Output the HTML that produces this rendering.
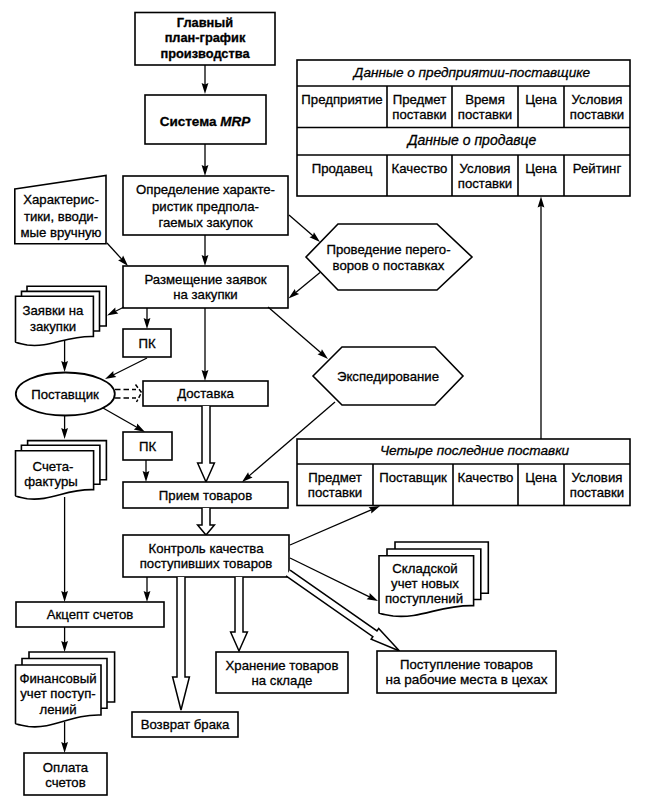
<!DOCTYPE html>
<html><head><meta charset="utf-8"><style>
html,body{margin:0;padding:0;background:#fff;}
svg{display:block;font-family:"Liberation Sans",sans-serif;}
text{fill:#000;stroke:#000;stroke-width:0.3px;}
</style></head><body>
<svg width="645" height="811" viewBox="0 0 645 811">
<rect x="135" y="12.5" width="140" height="52.5" fill="#fff" stroke="#000" stroke-width="1.6"/>
<text x="205" y="26.5" font-size="12.8" font-weight="bold" font-style="normal" text-anchor="middle" >Главный</text>
<text x="205" y="42.2" font-size="12.8" font-weight="bold" font-style="normal" text-anchor="middle" >план-график</text>
<text x="205" y="57.5" font-size="12.8" font-weight="bold" font-style="normal" text-anchor="middle" >производства</text>
<line x1="205" y1="65" x2="205.0" y2="85.0" stroke="#000" stroke-width="1.3"/>
<polygon points="205,94 201.60,83.00 205.00,84.50 208.40,83.00" fill="#000"/>
<rect x="145" y="95" width="121" height="49" fill="#fff" stroke="#000" stroke-width="1.6"/>
<text x="205" y="125.5" font-size="13.5" font-weight="bold" font-style="normal" text-anchor="middle" >Система <tspan font-style="italic">MRP</tspan></text>
<line x1="205" y1="144" x2="205.0" y2="167.0" stroke="#000" stroke-width="1.3"/>
<polygon points="205,176 201.60,165.00 205.00,166.50 208.40,165.00" fill="#000"/>
<rect x="123" y="176" width="165" height="59" fill="#fff" stroke="#000" stroke-width="1.6"/>
<text x="205.5" y="193.5" font-size="13.2" font-weight="normal" font-style="normal" text-anchor="middle" >Определение характе-</text>
<text x="205.5" y="210.5" font-size="13.2" font-weight="normal" font-style="normal" text-anchor="middle" >ристик предпола-</text>
<text x="205.5" y="226.5" font-size="13.2" font-weight="normal" font-style="normal" text-anchor="middle" >гаемых закупок</text>
<line x1="205" y1="235" x2="205.0" y2="257.0" stroke="#000" stroke-width="1.3"/>
<polygon points="205,266 201.60,255.00 205.00,256.50 208.40,255.00" fill="#000"/>
<rect x="123" y="266" width="165" height="42" fill="#fff" stroke="#000" stroke-width="1.6"/>
<text x="205.5" y="283.5" font-size="13.2" font-weight="normal" font-style="normal" text-anchor="middle" >Размещение заявок</text>
<text x="205.5" y="298.5" font-size="13.2" font-weight="normal" font-style="normal" text-anchor="middle" >на закупки</text>
<polygon points="14.8,189 106,175.5 106,243.8 14.8,243.8" fill="#fff" stroke="#000" stroke-width="1.6" stroke-linejoin="miter"/>
<text x="61" y="203.5" font-size="13.2" font-weight="normal" font-style="normal" text-anchor="middle" >Характерис-</text>
<text x="61" y="220.5" font-size="13.2" font-weight="normal" font-style="normal" text-anchor="middle" >тики, вводи-</text>
<text x="61" y="236.5" font-size="13.2" font-weight="normal" font-style="normal" text-anchor="middle" >мые вручную</text>
<line x1="107" y1="243" x2="121.93157572380801" y2="259.3536305546469" stroke="#000" stroke-width="1.3"/>
<polygon points="128,266 118.07,260.17 121.59,258.98 123.09,255.58" fill="#000"/>
<polygon points="306,257 338,224 437,224 472,257 437,290 338,290" fill="#fff" stroke="#000" stroke-width="1.6" stroke-linejoin="miter"/>
<text x="388.5" y="253.5" font-size="13.2" font-weight="normal" font-style="normal" text-anchor="middle" >Проведение перего-</text>
<text x="388.5" y="269.5" font-size="13.2" font-weight="normal" font-style="normal" text-anchor="middle" >воров о поставках</text>
<line x1="289" y1="215" x2="313.21326563702326" y2="236.0889732967622" stroke="#000" stroke-width="1.3"/>
<polygon points="320,242 309.47,237.34 312.84,235.76 313.94,232.21" fill="#000"/>
<line x1="320" y1="272.5" x2="295.4410072250191" y2="292.7709146714128" stroke="#000" stroke-width="1.3"/>
<polygon points="288.5,298.5 294.82,288.88 295.83,292.45 299.15,294.12" fill="#000"/>
<rect x="297" y="60" width="333" height="136" fill="#fff" stroke="#000" stroke-width="1.6"/>
<line x1="297" y1="86" x2="630" y2="86" stroke="#000" stroke-width="1.6"/>
<line x1="297" y1="127.5" x2="630" y2="127.5" stroke="#000" stroke-width="1.6"/>
<line x1="297" y1="155" x2="630" y2="155" stroke="#000" stroke-width="1.6"/>
<line x1="387" y1="86" x2="387" y2="127.5" stroke="#000" stroke-width="1.6"/>
<line x1="387" y1="155" x2="387" y2="196" stroke="#000" stroke-width="1.6"/>
<line x1="452" y1="86" x2="452" y2="127.5" stroke="#000" stroke-width="1.6"/>
<line x1="452" y1="155" x2="452" y2="196" stroke="#000" stroke-width="1.6"/>
<line x1="518" y1="86" x2="518" y2="127.5" stroke="#000" stroke-width="1.6"/>
<line x1="518" y1="155" x2="518" y2="196" stroke="#000" stroke-width="1.6"/>
<line x1="564" y1="86" x2="564" y2="127.5" stroke="#000" stroke-width="1.6"/>
<line x1="564" y1="155" x2="564" y2="196" stroke="#000" stroke-width="1.6"/>
<text x="472" y="77.3" font-size="13.6" font-weight="normal" font-style="italic" text-anchor="middle" >Данные о предприятии-поставщике</text>
<text x="472" y="144.5" font-size="14" font-weight="normal" font-style="italic" text-anchor="middle" >Данные о продавце</text>
<text x="342.0" y="103.7" font-size="13.2" font-weight="normal" font-style="normal" text-anchor="middle" >Предприятие</text>
<text x="419.5" y="103.7" font-size="13.2" font-weight="normal" font-style="normal" text-anchor="middle" >Предмет</text>
<text x="419.5" y="118.7" font-size="13.2" font-weight="normal" font-style="normal" text-anchor="middle" >поставки</text>
<text x="485.0" y="103.7" font-size="13.2" font-weight="normal" font-style="normal" text-anchor="middle" >Время</text>
<text x="485.0" y="118.7" font-size="13.2" font-weight="normal" font-style="normal" text-anchor="middle" >поставки</text>
<text x="541.0" y="103.7" font-size="13.2" font-weight="normal" font-style="normal" text-anchor="middle" >Цена</text>
<text x="597.0" y="103.7" font-size="13.2" font-weight="normal" font-style="normal" text-anchor="middle" >Условия</text>
<text x="597.0" y="118.7" font-size="13.2" font-weight="normal" font-style="normal" text-anchor="middle" >поставки</text>
<text x="342.0" y="172.8" font-size="13.2" font-weight="normal" font-style="normal" text-anchor="middle" >Продавец</text>
<text x="419.5" y="172.8" font-size="13.2" font-weight="normal" font-style="normal" text-anchor="middle" >Качество</text>
<text x="485.0" y="172.8" font-size="13.2" font-weight="normal" font-style="normal" text-anchor="middle" >Условия</text>
<text x="485.0" y="187.8" font-size="13.2" font-weight="normal" font-style="normal" text-anchor="middle" >поставки</text>
<text x="541.0" y="172.8" font-size="13.2" font-weight="normal" font-style="normal" text-anchor="middle" >Цена</text>
<text x="597.0" y="172.8" font-size="13.2" font-weight="normal" font-style="normal" text-anchor="middle" >Рейтинг</text>
<line x1="541" y1="439" x2="541.0" y2="205.5" stroke="#000" stroke-width="1.3"/>
<polygon points="541,196.5 544.40,207.50 541.00,206.00 537.60,207.50" fill="#000"/>
<polygon points="27,286.3 106.2,286.3 106.2,326 27,326" fill="#fff" stroke="#000" stroke-width="1.6" stroke-linejoin="miter"/>
<polygon points="21.5,291.4 99.5,291.4 99.5,331 21.5,331" fill="#fff" stroke="#000" stroke-width="1.6" stroke-linejoin="miter"/>
<path d="M15.5,296.2 L93.4,296.2 L93.4,336.5 C66.135,335.5 50.55500000000001,348 27.185000000000002,345 C20.953000000000003,343.5 15.5,343 15.5,342 Z" fill="#fff" stroke="#000" stroke-width="1.6"/>
<text x="53" y="315" font-size="13.2" font-weight="normal" font-style="normal" text-anchor="middle" >Заявки на</text>
<text x="53" y="330.8" font-size="13.2" font-weight="normal" font-style="normal" text-anchor="middle" >закупки</text>
<line x1="124" y1="307" x2="115.04984471899925" y2="311.4750776405004" stroke="#000" stroke-width="1.3"/>
<polygon points="107,315.5 115.32,307.54 115.50,311.25 118.36,313.62" fill="#000"/>
<line x1="147" y1="308" x2="147.0" y2="320.0" stroke="#000" stroke-width="1.3"/>
<polygon points="147,329 143.60,318.00 147.00,319.50 150.40,318.00" fill="#000"/>
<rect x="123" y="329" width="48" height="28" fill="#fff" stroke="#000" stroke-width="1.6"/>
<text x="147" y="347.5" font-size="13.2" font-weight="normal" font-style="normal" text-anchor="middle" >ПК</text>
<line x1="147" y1="358" x2="113.04984471899925" y2="374.9750776405004" stroke="#000" stroke-width="1.3"/>
<polygon points="105,379 113.32,371.04 113.50,374.75 116.36,377.12" fill="#000"/>
<line x1="205" y1="308" x2="205.0" y2="372.0" stroke="#000" stroke-width="1.3"/>
<polygon points="205,381 201.60,370.00 205.00,371.50 208.40,370.00" fill="#000"/>
<line x1="268" y1="307" x2="321.19879825489164" y2="353.1056251542394" stroke="#000" stroke-width="1.3"/>
<polygon points="328,359 317.46,354.37 320.82,352.78 321.91,349.23" fill="#000"/>
<polygon points="313,376 342,347 435,347 463,376 435,405 342,405" fill="#fff" stroke="#000" stroke-width="1.6" stroke-linejoin="miter"/>
<text x="388" y="380.5" font-size="13.2" font-weight="normal" font-style="normal" text-anchor="middle" >Экспедирование</text>
<line x1="335" y1="402" x2="248.82294133106853" y2="476.1308031560701" stroke="#000" stroke-width="1.3"/>
<polygon points="242,482 248.12,472.25 249.20,475.80 252.56,477.40" fill="#000"/>
<line x1="64.6" y1="340" x2="64.6" y2="363.0" stroke="#000" stroke-width="1.3"/>
<polygon points="64.6,372 61.20,361.00 64.60,362.50 68.00,361.00" fill="#000"/>
<ellipse cx="65.3" cy="394" rx="49.5" ry="21.5" fill="#fff" stroke="#000" stroke-width="1.8"/>
<text x="65" y="398.5" font-size="13.2" font-weight="normal" font-style="normal" text-anchor="middle" >Поставщик</text>
<path d="M115,389.5 L136,389.5 M115,398 L136,398" stroke="#000" stroke-width="1.5" stroke-dasharray="5.5,3" fill="none"/>
<path d="M135.5,384.5 L141.5,392.5 L136.5,402" stroke="#000" stroke-width="1.5" fill="none" stroke-dasharray="4,2"/>
<rect x="143" y="381" width="125" height="25" fill="#fff" stroke="#000" stroke-width="1.6"/>
<text x="205.5" y="397.5" font-size="13.2" font-weight="normal" font-style="normal" text-anchor="middle" >Доставка</text>
<line x1="103" y1="408" x2="137.18581172087985" y2="427.5347495547885" stroke="#000" stroke-width="1.3"/>
<polygon points="145,432 133.76,429.49 136.75,427.29 137.14,423.59" fill="#000"/>
<line x1="64.6" y1="415" x2="64.6" y2="430.0" stroke="#000" stroke-width="1.3"/>
<polygon points="64.6,439 61.20,428.00 64.60,429.50 68.00,428.00" fill="#000"/>
<rect x="123" y="432" width="49" height="28" fill="#fff" stroke="#000" stroke-width="1.6"/>
<text x="147.5" y="450.5" font-size="13.2" font-weight="normal" font-style="normal" text-anchor="middle" >ПК</text>
<line x1="146" y1="460" x2="146.0" y2="473.0" stroke="#000" stroke-width="1.3"/>
<polygon points="146,482 142.60,471.00 146.00,472.50 149.40,471.00" fill="#000"/>
<polyline points="202.00,406.00 202.00,463.00 197.60,463.00 206.00,482.00 214.40,463.00 210.00,463.00 210.00,406.00" fill="#fff" stroke="#000" stroke-width="1.5" stroke-linejoin="miter"/>
<polygon points="27.6,440.6 106.4,440.6 106.4,479.8 27.6,479.8" fill="#fff" stroke="#000" stroke-width="1.6" stroke-linejoin="miter"/>
<polygon points="21.4,445.3 99.9,445.3 99.9,484.2 21.4,484.2" fill="#fff" stroke="#000" stroke-width="1.6" stroke-linejoin="miter"/>
<path d="M15.5,450.8 L93.6,450.8 L93.6,489.7 C66.265,488.7 50.644999999999996,501.7 27.214999999999996,498.7 C20.967,497.2 15.5,496.7 15.5,495.7 Z" fill="#fff" stroke="#000" stroke-width="1.6"/>
<text x="53" y="471" font-size="13.2" font-weight="normal" font-style="normal" text-anchor="middle" >Счета-</text>
<text x="51" y="486.3" font-size="13.2" font-weight="normal" font-style="normal" text-anchor="middle" >фактуры</text>
<rect x="123" y="482" width="165" height="26" fill="#fff" stroke="#000" stroke-width="1.6"/>
<text x="205.5" y="499.5" font-size="13.2" font-weight="normal" font-style="normal" text-anchor="middle" >Прием товаров</text>
<polyline points="202.00,508.00 202.00,525.00 197.60,525.00 206.00,535.00 214.40,525.00 210.00,525.00 210.00,508.00" fill="#fff" stroke="#000" stroke-width="1.5" stroke-linejoin="miter"/>
<rect x="123" y="535" width="166" height="42" fill="#fff" stroke="#000" stroke-width="1.6"/>
<text x="206" y="552.5" font-size="13.2" font-weight="normal" font-style="normal" text-anchor="middle" >Контроль качества</text>
<text x="206" y="567.5" font-size="13.2" font-weight="normal" font-style="normal" text-anchor="middle" >поступивших товаров</text>
<rect x="297" y="439" width="333" height="66.5" fill="#fff" stroke="#000" stroke-width="1.6"/>
<line x1="297" y1="464" x2="630" y2="464" stroke="#000" stroke-width="1.6"/>
<line x1="373" y1="464" x2="373" y2="505.5" stroke="#000" stroke-width="1.6"/>
<line x1="453" y1="464" x2="453" y2="505.5" stroke="#000" stroke-width="1.6"/>
<line x1="518" y1="464" x2="518" y2="505.5" stroke="#000" stroke-width="1.6"/>
<line x1="564" y1="464" x2="564" y2="505.5" stroke="#000" stroke-width="1.6"/>
<text x="474.5" y="455.3" font-size="13.6" font-weight="normal" font-style="italic" text-anchor="middle" >Четыре последние поставки</text>
<text x="335.0" y="482" font-size="13.2" font-weight="normal" font-style="normal" text-anchor="middle" >Предмет</text>
<text x="335.0" y="497" font-size="13.2" font-weight="normal" font-style="normal" text-anchor="middle" >поставки</text>
<text x="413.0" y="482" font-size="13.2" font-weight="normal" font-style="normal" text-anchor="middle" >Поставщик</text>
<text x="485.5" y="482" font-size="13.2" font-weight="normal" font-style="normal" text-anchor="middle" >Качество</text>
<text x="541.0" y="482" font-size="13.2" font-weight="normal" font-style="normal" text-anchor="middle" >Цена</text>
<text x="597.0" y="482" font-size="13.2" font-weight="normal" font-style="normal" text-anchor="middle" >Условия</text>
<text x="597.0" y="497" font-size="13.2" font-weight="normal" font-style="normal" text-anchor="middle" >поставки</text>
<line x1="290" y1="545" x2="371.74199937221067" y2="509.57846693870874" stroke="#000" stroke-width="1.3"/>
<polygon points="380,506 371.26,513.49 371.28,509.78 368.56,507.25" fill="#000"/>
<line x1="290" y1="558" x2="369.913735193825" y2="597.0487569697099" stroke="#000" stroke-width="1.3"/>
<polygon points="378,601 366.62,599.23 369.46,596.83 369.61,593.12" fill="#000"/>
<polygon points="395,542 488.3,542 488.3,593.3 395,593.3" fill="#fff" stroke="#000" stroke-width="1.6" stroke-linejoin="miter"/>
<polygon points="387,549 480.8,549 480.8,599.5 387,599.5" fill="#fff" stroke="#000" stroke-width="1.6" stroke-linejoin="miter"/>
<path d="M379,555.8 L473.6,555.8 L473.6,605.7 C440.49,604.7 421.57,619 393.19,616 C385.622,614.5 379,614 379,613 Z" fill="#fff" stroke="#000" stroke-width="1.6"/>
<text x="425" y="572.5" font-size="13.2" font-weight="normal" font-style="normal" text-anchor="middle" >Складской</text>
<text x="425" y="587.5" font-size="13.2" font-weight="normal" font-style="normal" text-anchor="middle" >учет новых</text>
<text x="424" y="603" font-size="13.2" font-weight="normal" font-style="normal" text-anchor="middle" >поступлений</text>
<polyline points="285.94,575.95 372.85,636.75 371.13,639.21 399.50,651.00 378.70,628.40 376.98,630.85 290.06,570.05" fill="#fff" stroke="#000" stroke-width="1.5" stroke-linejoin="miter"/>
<rect x="377" y="651" width="179" height="42" fill="#fff" stroke="#000" stroke-width="1.6"/>
<text x="466.5" y="668.5" font-size="13.2" font-weight="normal" font-style="normal" text-anchor="middle" >Поступление товаров</text>
<text x="466.5" y="683.5" font-size="13.5" font-weight="normal" font-style="normal" text-anchor="middle" >на рабочие места в цехах</text>
<line x1="64.6" y1="497" x2="64.6" y2="593.0" stroke="#000" stroke-width="1.3"/>
<polygon points="64.6,602 61.20,591.00 64.60,592.50 68.00,591.00" fill="#000"/>
<line x1="147" y1="577" x2="147.0" y2="593.0" stroke="#000" stroke-width="1.3"/>
<polygon points="147,602 143.60,591.00 147.00,592.50 150.40,591.00" fill="#000"/>
<rect x="16" y="602" width="148" height="25" fill="#fff" stroke="#000" stroke-width="1.6"/>
<text x="90" y="618.5" font-size="13.2" font-weight="normal" font-style="normal" text-anchor="middle" >Акцепт счетов</text>
<polyline points="177.00,577.00 177.00,677.00 172.60,677.00 181.00,710.00 189.40,677.00 185.00,677.00 185.00,577.00" fill="#fff" stroke="#000" stroke-width="1.5" stroke-linejoin="miter"/>
<polyline points="235.00,577.00 235.00,632.00 230.60,632.00 239.00,651.00 247.40,632.00 243.00,632.00 243.00,577.00" fill="#fff" stroke="#000" stroke-width="1.5" stroke-linejoin="miter"/>
<rect x="216" y="652" width="132" height="41" fill="#fff" stroke="#000" stroke-width="1.6"/>
<text x="282" y="670" font-size="13.2" font-weight="normal" font-style="normal" text-anchor="middle" >Хранение товаров</text>
<text x="282" y="685" font-size="13.2" font-weight="normal" font-style="normal" text-anchor="middle" >на складе</text>
<rect x="132" y="712" width="106" height="25" fill="#fff" stroke="#000" stroke-width="1.6"/>
<text x="185" y="728.5" font-size="13.2" font-weight="normal" font-style="normal" text-anchor="middle" >Возврат брака</text>
<line x1="64.6" y1="627" x2="64.6" y2="643.0" stroke="#000" stroke-width="1.3"/>
<polygon points="64.6,652 61.20,641.00 64.60,642.50 68.00,641.00" fill="#000"/>
<polygon points="29,652 114.6,652 114.6,702 29,702" fill="#fff" stroke="#000" stroke-width="1.6" stroke-linejoin="miter"/>
<polygon points="22,658.5 107,658.5 107,708.2 22,708.2" fill="#fff" stroke="#000" stroke-width="1.6" stroke-linejoin="miter"/>
<path d="M15.5,665 L101,665 L101,715 C71.075,714 53.975,729.5 28.325,726.5 C21.485,725.0 15.5,724.5 15.5,723.5 Z" fill="#fff" stroke="#000" stroke-width="1.6"/>
<text x="58" y="683" font-size="13.2" font-weight="normal" font-style="normal" text-anchor="middle" >Финансовый</text>
<text x="58" y="698" font-size="13.2" font-weight="normal" font-style="normal" text-anchor="middle" >учет поступ-</text>
<text x="58" y="714" font-size="13.2" font-weight="normal" font-style="normal" text-anchor="middle" >лений</text>
<line x1="64.6" y1="722" x2="64.6" y2="744.0" stroke="#000" stroke-width="1.3"/>
<polygon points="64.6,753 61.20,742.00 64.60,743.50 68.00,742.00" fill="#000"/>
<rect x="24" y="753" width="83" height="42" fill="#fff" stroke="#000" stroke-width="1.6"/>
<text x="65.5" y="772" font-size="13.2" font-weight="normal" font-style="normal" text-anchor="middle" >Оплата</text>
<text x="65.5" y="787" font-size="13.2" font-weight="normal" font-style="normal" text-anchor="middle" >счетов</text>
</svg></body></html>
